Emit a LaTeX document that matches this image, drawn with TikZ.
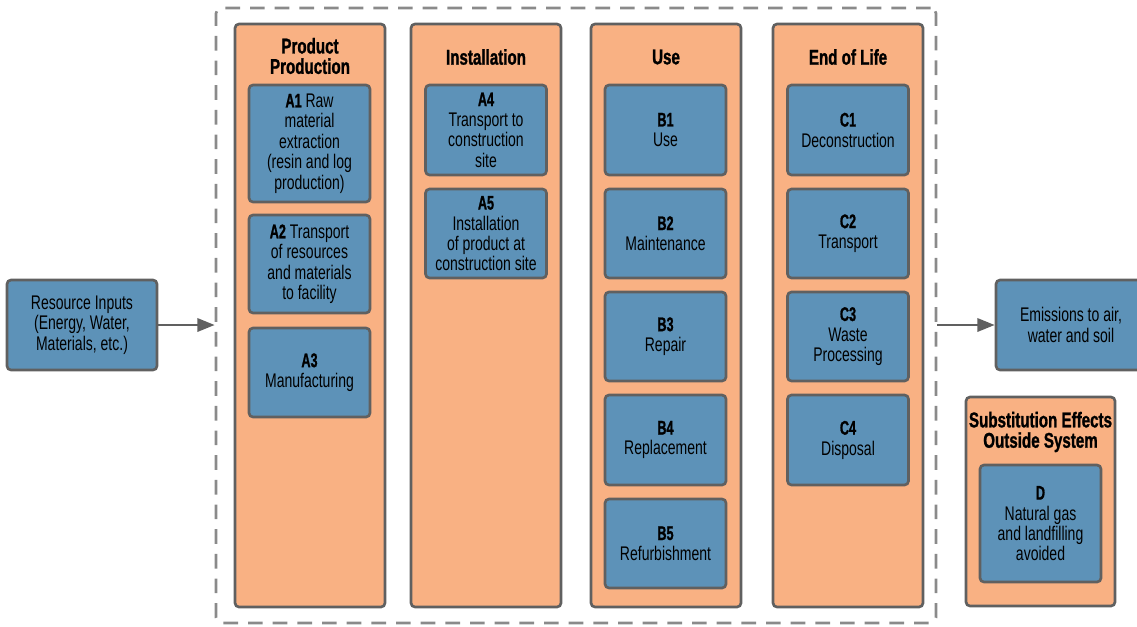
\documentclass[tikz,border=0pt]{standalone}
\usepackage{fontspec}
\setmainfont{Liberation Sans}[FakeStretch=0.71]
\newfontfamily\hbfam{Liberation Sans}[FakeStretch=0.64, FakeBold=1]
\newfontfamily\ttfam{Liberation Sans}[FakeStretch=0.71, FakeBold=1.2]
\usetikzlibrary{arrows.meta}
\definecolor{org}{RGB}{249,177,131}
\definecolor{blu}{RGB}{93,146,184}
\definecolor{brd}{RGB}{96,96,96}
\definecolor{dsh}{RGB}{138,138,138}
\newcommand\kw[1]{{\hbfam\bfseries #1}}
\begin{document}
\begin{tikzpicture}[x=0.75pt,y=-0.75pt,
 box/.style={draw=brd, line width=2pt, rounded corners=3pt, inner sep=0pt, align=center,
   font=\fontsize{14.8}{15.3}\selectfont, text=black},
 col/.style={box, fill=org, minimum width=112.5pt},
 blk/.style={box, fill=blu, minimum width=90.75pt},
 hp/.style={minimum height=#1*0.75pt},
 ttl/.style={align=center, font=\ttfam\bfseries\fontsize{16}{15.3}\selectfont, inner sep=0pt, text=black},
 sysbox/.style={draw=dsh, line width=2pt, dash pattern=on 11pt off 7.5pt, rounded corners=4pt,
   minimum width=540pt, minimum height=461.25pt, inner sep=0pt},
 arr/.style={draw=brd, line width=1.8pt, -{Triangle[length=13pt,width=10pt]}}
]
\useasboundingbox (0,0) rectangle (1137,626);
\node[sysbox] (sys) at (576,315.5) {};
% columns
\node[col, hp=583] (col1) at (310,315.5) {};
\node[col, hp=583] (col2) at (486,315.5) {};
\node[col, hp=583] (col3) at (666,315.5) {};
\node[col, hp=583] (col4) at (848,315.5) {};
\node[ttl] (t1) at (310,56) {Product\\Production};
\node[ttl] (t2) at (486,57) {Installation};
\node[ttl] (t3) at (666,57) {Use};
\node[ttl] (t4) at (848,57) {End of Life};
% A
\node[blk, hp=117] (A1) at (309.5,143.5) {\kw{A1} Raw\\material\\extraction\\(resin and log\\production)};
\node[blk, hp=98] (A2) at (309.5,264) {\kw{A2} Transport\\of resources\\and materials\\to facility};
\node[blk, hp=89] (A3) at (309.5,372.5) {\kw{A3}\\Manufacturing};
\node[blk, hp=90] (A4) at (486,130) {\kw{A4}\\Transport to\\construction\\site};
\node[blk, hp=89] (A5) at (486,233.5) {\kw{A5}\\Installation\\of product at\\construction site};
% B
\node[blk, hp=90] (B1) at (665.5,130) {\kw{B1}\\Use};
\node[blk, hp=89] (B2) at (665.5,233.5) {\kw{B2}\\Maintenance};
\node[blk, hp=89] (B3) at (665.5,336.5) {\kw{B3}\\Repair};
\node[blk, hp=90] (B4) at (665.5,440) {\kw{B4}\\Replacement};
\node[blk, hp=89] (B5) at (665.5,543.5) {\kw{B5}\\Refurbishment};
% C
\node[blk, hp=90] (C1) at (848,130) {\kw{C1}\\Deconstruction};
\node[blk, hp=89] (C2) at (848,233.5) {\kw{C2}\\Transport};
\node[blk, hp=89] (C3) at (848,336.5) {\kw{C3}\\Waste\\Processing};
\node[blk, hp=90] (C4) at (848,440) {\kw{C4}\\Disposal};
% outside
\node[blk, minimum width=112.5pt, hp=90] (res) at (82,325) {Resource Inputs\\(Energy, Water,\\Materials, etc.)};
\node[blk, minimum width=112.5pt, hp=90] (emi) at (1071,325) {Emissions to air,\\water and soil};
\node[col, minimum width=111.75pt, hp=209] (sub) at (1040.5,501.5) {};
\node[ttl] (subt) at (1040.5,432) {Substitution Effects\\Outside System};
\node[blk, hp=117] (D) at (1040.5,523.5) {\kw{D}\\Natural gas\\and landfilling\\avoided};
% arrows
\draw[arr] (res.east) -- (res.east -| sys.west);
\draw[arr] (emi.west -| sys.east) -- (emi.west);
\end{tikzpicture}
\end{document}
